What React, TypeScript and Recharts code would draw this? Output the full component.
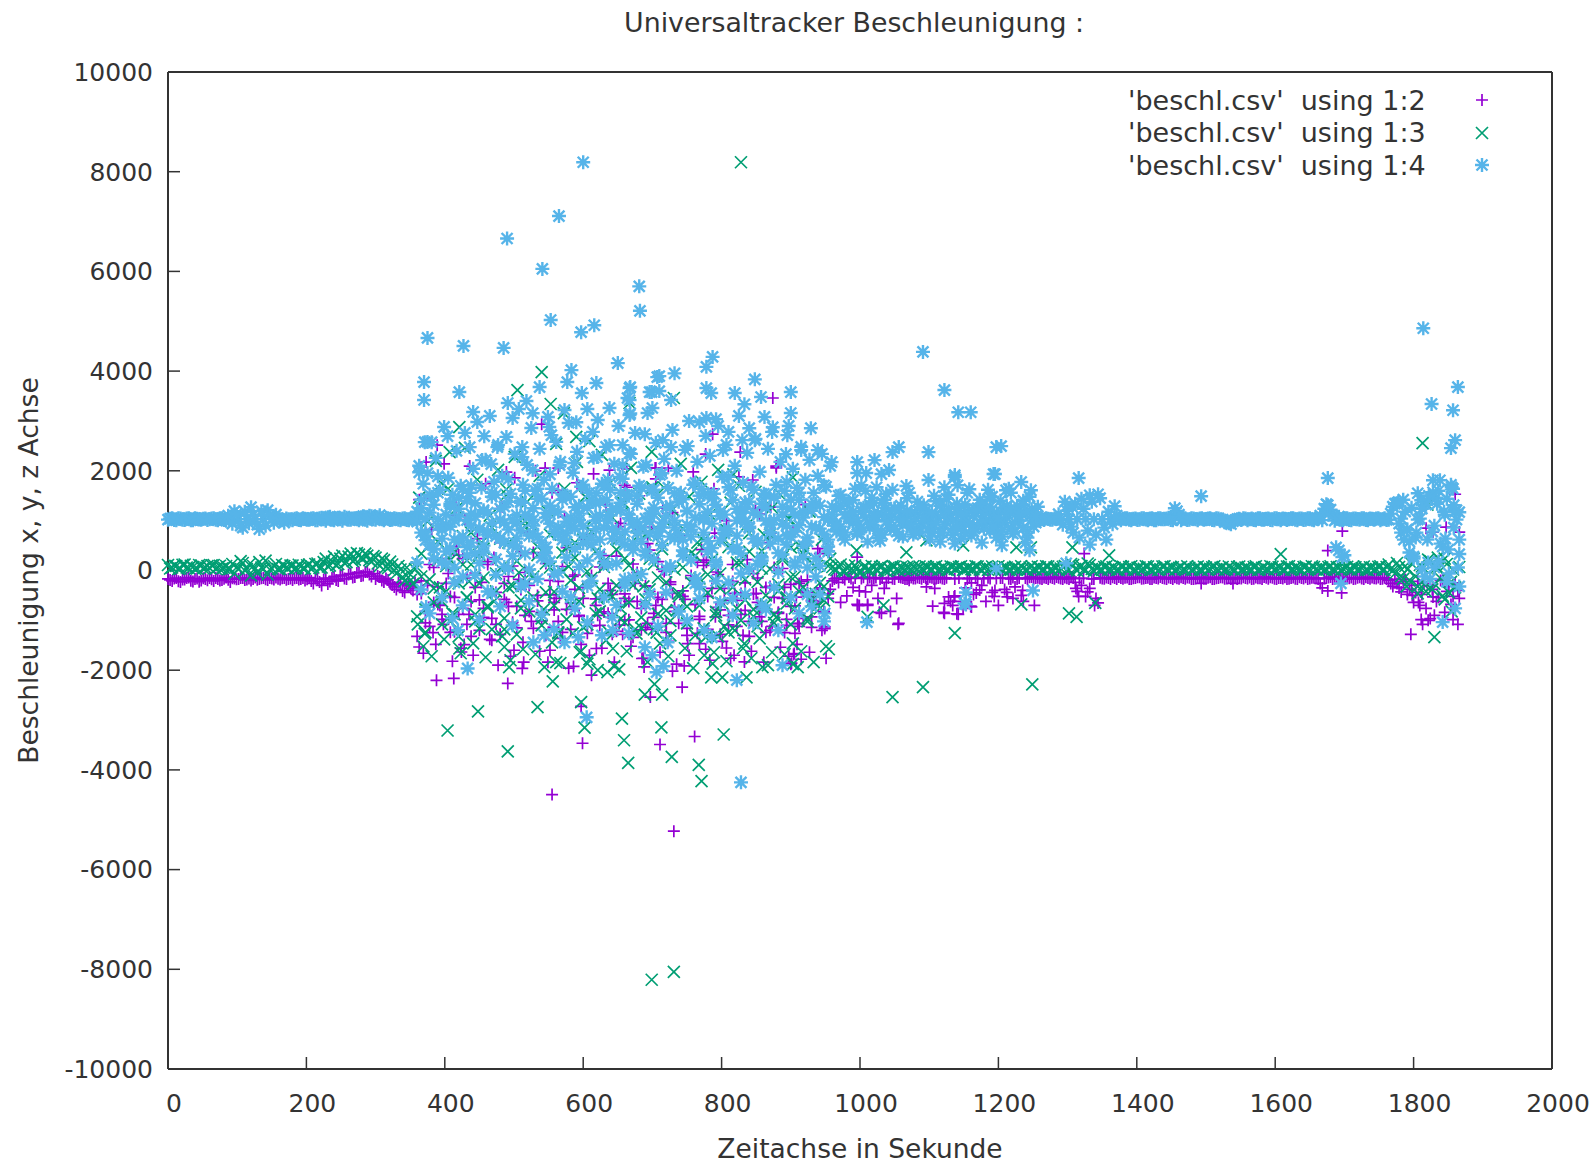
import { ScatterChart, Scatter, XAxis, YAxis } from 'recharts';

const xTicks = [0, 200, 400, 600, 800, 1000, 1200, 1400, 1600, 1800, 2000];
const yTicks = [-10000, -8000, -6000, -4000, -2000, 0, 2000, 4000, 6000, 8000, 10000];

// the sensor logs steadily, so the three thick bands share one time column
const bandTimes = [
  0, 6, 12, 18, 24, 30, 36, 42, 48, 54, 60, 66, 72, 78, 84, 90, 96, 102, 108, 114,
  120, 126, 132, 138, 144, 150, 156, 162, 168, 174, 180, 186, 192, 198, 204, 210, 216, 222, 228, 234,
  240, 246, 252, 258, 264, 270, 276, 282, 288, 294, 300, 306, 312, 318, 324, 330, 336, 342, 348, 354,
  360, 366, 372, 378, 384, 390, 396, 402, 408, 414, 420, 426, 432, 438, 444, 450, 456, 462, 468, 474,
  480, 486, 492, 498, 504, 510, 516, 522, 528, 534, 540, 546, 552, 558, 564, 570, 576, 582, 588, 594,
  600, 606, 612, 618, 624, 630, 636, 642, 648, 654, 660, 666, 672, 678, 684, 690, 696, 702, 708, 714,
  720, 726, 732, 738, 744, 750, 756, 762, 768, 774, 780, 786, 792, 798, 804, 810, 816, 822, 828, 834,
  840, 846, 852, 858, 864, 870, 876, 882, 888, 894, 900, 906, 912, 918, 924, 930, 936, 942, 948, 954,
  960, 966, 972, 978, 984, 990, 996, 1002, 1008, 1014, 1020, 1026, 1032, 1038, 1044, 1050, 1056, 1062, 1068, 1074,
  1080, 1086, 1092, 1098, 1104, 1110, 1116, 1122, 1128, 1134, 1140, 1146, 1152, 1158, 1164, 1170, 1176, 1182, 1188, 1194,
  1200, 1206, 1212, 1218, 1224, 1230, 1236, 1242, 1248, 1254, 1260, 1266, 1272, 1278, 1284, 1290, 1296, 1302, 1308, 1314,
  1320, 1326, 1332, 1338, 1344, 1350, 1356, 1362, 1368, 1374, 1380, 1386, 1392, 1398, 1404, 1410, 1416, 1422, 1428, 1434,
  1440, 1446, 1452, 1458, 1464, 1470, 1476, 1482, 1488, 1494, 1500, 1506, 1512, 1518, 1524, 1530, 1536, 1542, 1548, 1554,
  1560, 1566, 1572, 1578, 1584, 1590, 1596, 1602, 1608, 1614, 1620, 1626, 1632, 1638, 1644, 1650, 1656, 1662, 1668, 1674,
  1680, 1686, 1692, 1698, 1704, 1710, 1716, 1722, 1728, 1734, 1740, 1746, 1752, 1758, 1764, 1770, 1776, 1782, 1788, 1794,
  1800, 1806, 1812, 1818, 1824, 1830, 1836, 1842, 1848, 1854, 1860, 1866,
];

const plusBand = [
  -170, -210, -150, -230, -180, -140, -220, -160, -200, -170,
  -150, -210, -170, -190, -140, -230, -160, -170, -150, -180,
  -200, -140, -170, -150, -190, -160, -140, -180, -150, -170,
  -190, -150, -170, -200, -140, -260, -170, -300, -150, -220,
  -120, -210, -90, -170, -60, -130, -40, -100, -30, -120,
  -170, -130, -230, -190, -290, -380, -260, -440, -310, -400,
  -480, -210, -1050, 120, -640, -330, -880, 240, -520, -1230,
  310, -760, -150, -1320, -50, -590, -940, 180, -430, -1080,
  560, -260, -720, 90, -1150, -380, -40, -820, 360, -610,
  -1010, 140, -490, -790, -220, -1240, 460, -660, -90, -900,
  -340, 720, -1110, -570, 70, -830, -260, -1280, 290, -700,
  -470, -990, 130, -620, -1190, -310, 410, -860, -540, 20,
  -1060, -230, -740, 650, -410, -1160, -100, -680, -920, 210,
  -520, -1310, -30, -790, -360, -1090, 120, -600, -880, -250,
  -1020, -470, -150, -730, -1240, -320, 60, -840, -560, -980,
  -280, -710, -1120, -410, -190, -930, -620, -350, -820, -470,
  -210, -150, -640, -180, -130, -340, -680, -160, -430, -140,
  -160, -560, -150, -240, -820, -170, -130, -150, -170, -140,
  -160, -150, -130, -170, -145, -160, -140, -170, -530, -700,
  -870, -620, -350, -150, -480, -170, -300, -620, -160, -520,
  -700, -150, -440, -170, -330, -150, -620, -170, -130, -150,
  -160, -140, -170, -150, -130, -160, -140, -170, -150, -420,
  -300, -520, -360, -170, -650, -160, -140, -170, -150, -130,
  -165, -140, -170, -150, -135, -160, -145, -170, -150, -130,
  -160, -140, -170, -155, -135, -165, -145, -170, -150, -140,
  -165, -135, -170, -150, -140, -160, -170, -145, -155, -135,
  -160, -170, -140, -155, -130, -165, -145, -170, -150, -135,
  -165, -140, -170, -150, -135, -160, -145, -170, -350, -150,
  -130, -165, -145, -170, -150, -140, -165, -135, -170, -150,
  -140, -160, -170, -145, -200, -320, -260, -430, -180, -380,
  -640, -220, -480, -760, -310, -900, -540, -180, -420, -680, -250, -560,
];

const plusBandB = [
  -190, -160, -215, -180, -150, -205, -170, -225, -155, -195,
  -175, -150, -200, -165, -185, -155, -175, -150, -190, -160,
  -170, -185, -155, -175, -150, -180, -165, -155, -185, -160,
  -155, -180, -150, -175, -210, -160, -230, -180, -270, -150,
  -190, -110, -160, -80, -140, -50, -110, -30, -80, -60,
  -110, -200, -160, -260, -330, -240, -410, -280, -360, -240,
  1420, -1660, -300, 820, -1480, -700, 2140, -60, -1820, 480,
  -1560, 1020, -880, -1700, 640, -240, 1740, -1380, 260, -1900,
  1280, -640, -1720, 1860, -180, -1440, 760, -1020, 2000, -1620,
  340, -1840, 1560, -560, -1360, 1080, -1960, -120, 1760, -1480,
  620, -1700, 1940, -900, -1560, 1320, -400, -1840, 880, -1280,
  2040, -1520, -260, 1500, -1760, 540, -1180, 1840, -1640, -20,
  -1420, 1160, -1880, 700, -580, -1700, 1980, -1260, 420, -1580,
  -1800, 1640, -80, -1420, 1000, -1760, -460, 1880, -1300, 220,
  -1620, 1240, -760, -1840, 560, -1120, 2060, -1540, -340, -1720,
  780, -1480, -220, 1320, -1640, -620, 440, -1200, -1760, -380,
  -170, -240, -145, -510, -160, -150, -410, -135, -165, -300,
  -140, -170, -360, -150, -165, -560, -140, -170, -150, -160,
  -140, -165, -150, -135, -170, -150, -160, -145, -620, -170,
  -150, -760, -170, -250, -150, -390, -165, -145, -440, -160,
  -150, -380, -165, -140, -170, -500, -150, -135, -165, -145,
  -170, -150, -135, -165, -145, -170, -155, -130, -240, -165,
  -150, -430, -170, -560, -145, -165, -150, -135, -170, -150,
  -145, -170, -155, -135, -165, -150, -170, -140, -160, -150,
  -170, -150, -135, -165, -150, -140, -170, -160, -135, -165,
  -145, -170, -155, -135, -165, -150, -140, -170, -160, -150,
  -140, -165, -155, -170, -145, -135, -165, -150, -160, -170,
  -150, -165, -135, -160, -170, -145, -155, -260, -160, -140,
  -170, -150, -135, -165, -155, -170, -145, -160, -135, -165,
  -155, -140, -165, -170, -260, -180, -350, -220, -480, -300,
  -440, -700, -260, -1000, -380, -620, -200, -840, -320, -520,
];

const crossBand = [
  110, 60, 90, 40, 120, 50, 70, 40, 100, 60,
  50, 110, 70, 40, 90, 30, -60, 40, 150, 30,
  -100, 40, 170, 30, -80, 40, 130, 30, 90, 40,
  100, 50, 80, 40, 120, 60, 140, 60, 240, 100,
  280, 130, 300, 170, 340, 220, 320, 240, 300, 180,
  260, 90, 210, 50, 120, -60, 20, -210, -50, -270,
  60, -120, -780, 510, -360, 210, -620, 90, -1020, 380,
  -260, 690, -540, 120, -880, 320, -140, -710, 860, -420,
  40, -1180, 560, -310, 190, -760, 990, -80, -540, 310,
  -960, 140, 720, -430, -1240, -20, 470, -690, 260, -350,
  620, -1080, -150, 380, -820, 70, -510, 1060, -300, -970,
  240, -640, 540, -90, -1150, 720, -380, 130, -870, 430,
  -240, -1010, 870, -520, 60, -720, 350, -1300, -160, 610,
  -450, 220, -830, -60, -1120, 470, -340, -760, 160, -590,
  750, -920, -230, 390, -680, 30, -1050, -410, 280, -540,
  -130, -760, 510, -340, -1020, 140, -470, -250, -600, 90,
  70, 10, 120, -20, 90, 0, 30, -30, 80, 10,
  60, 0, 90, -10, 20, 80, 0, 40, 70, 10,
  50, 80, 10, 65, 20, 85, 30, 55, 10, 75,
  40, 85, 20, 60, 25, 80, 10, 70, 35, 15,
  85, 20, 60, 15, 75, 30, 50, 10, 85, 20,
  65, 25, 80, 10, 55, 40, 90, 10, 110, 0,
  90, 10, 110, -10, 60, 10, 85, 30, 55, 15,
  75, 20, 85, 10, 60, 35, 80, 10, 50, 25,
  85, 15, 65, 30, 75, 15, 55, 20, 80, 10,
  60, 35, 85, 15, 70, 25, 50, 10, 80, 30,
  55, 15, 85, 20, 65, 15, 75, 35, 60, 10,
  85, 25, 50, 10, 80, 30, 70, 10, 60, 20,
  85, 15, 55, 35, 75, 15, 65, 25, 80, 10,
  60, 30, 85, 15, 120, 0, 150, -110, 90, -200,
  240, -320, 80, -420, 190, -270, 40, -510, 130, -230, -340, 70,
];

const crossBandB = [
  40, 100, 30, 115, 60, 95, 35, 110, 45, 90,
  105, 35, 95, 55, 25, 130, 60, 190, 0, 120,
  90, -50, 60, 200, 20, 90, 30, 110, 60, 100,
  35, 115, 45, 105, 30, 130, 50, 170, 80, 180,
  110, 240, 150, 280, 190, 350, 250, 340, 210, 290,
  140, 240, 70, 180, 10, 90, -130, 60, -190, 30,
  1460, -1520, 980, -1720, 2200, -340, -1380, 1640, -860, 1240,
  -1660, 2460, -220, -1460, 1820, 560, -1740, 1100, -620, 2020,
  -1320, 1520, -1800, 2280, -40, -1580, 1380, 740, -1680, 1900,
  -780, 1180, -1440, 2540, -1860, 1640, 80, -1260, 2180, -1620,
  1480, -1780, 1040, -560, 2320, -1400, 1760, -1920, 640, 1320,
  -1620, 2060, -1180, 1540, -320, -1840, 2380, 860, -1460, 1660,
  -1720, 1220, -800, 2140, -1560, 1480, -1960, 560, 1780, -1340,
  1120, -1640, 2020, -660, -1820, 1360, -1200, 1700, -1560, 920,
  -1760, 1580, -1360, 720, -1900, 1260, -940, 1520, -1680, 1040,
  -1460, 860, -1620, 420, 1180, -1840, -700, 620, -1520, 240,
  20, 85, -10, 60, 30, 100, -40, 70, 15, 90,
  25, 70, 10, 50, 85, 25, 65, 10, 55, 85,
  15, 40, 85, 25, 70, 10, 60, 15, 80, 30,
  70, 15, 55, 25, 85, 20, 50, 15, 80, 60,
  25, 70, 10, 55, 20, 85, 15, 60, 30, 75,
  15, 85, 20, 60, 10, 75, 20, 130, 30, 70,
  15, 140, 30, 60, 20, 70, 15, 65, 10, 85,
  25, 70, 15, 55, 20, 85, 15, 65, 10, 80,
  30, 70, 10, 55, 25, 85, 15, 60, 20, 75,
  15, 65, 25, 55, 10, 80, 30, 70, 15, 60,
  20, 70, 10, 55, 30, 85, 20, 65, 15, 80,
  15, 60, 30, 70, 10, 85, 25, 55, 15, 70,
  25, 70, 15, 60, 25, 80, 20, 50, 15, 65,
  20, 75, 15, 70, 30, -60, 70, -170, 20, 140,
  -120, 110, -280, 220, -380, 60, -160, 240, -440, 20,
];

const starBand = [
  1020, 1050, 1010, 1045, 1015, 1050, 1010, 1040, 1020, 1045,
  1030, 1050, 1010, 1050, 1000, 1030, 1190, 1030, 860, 1030,
  1270, 1030, 830, 1030, 1210, 1030, 1120, 1030, 960, 1030,
  1010, 1050, 1010, 1040, 1020, 1050, 1010, 1060, 1000, 1080,
  1010, 1060, 1000, 1060, 1020, 1050, 1010, 1090, 1000, 1090,
  1020, 1110, 1010, 1050, 1020, 1040, 1010, 1050, 1010, 1045,
  1030, 1250, 760, 1520, 430, 1890, 180, 920, 1340, 620,
  1460, -120, 1010, 1710, 340, 820, 1180, -420, 1560, 690,
  1240, 70, 1830, 510, 950, 1390, -260, 1080, 740, 1640,
  260, 1150, 1930, -80, 870, 1420, 580, -540, 1270, 1010,
  1720, -310, 660, 1350, 1100, 150, 1820, 830, -690, 1210,
  520, 1500, -140, 970, 1660, 380, -470, 1130, 780, 1950,
  30, 1290, 640, -820, 1430, 910, 210, 1760, -330, 1060,
  1540, 450, -210, 1180, 760, 1880, -560, 1000, 340, 1370,
  850, 1620, 120, -690, 1260, 540, 1460, -30, 930, 1780,
  680, 1110, 1560, 270, -480, 880, 1340, 90, 1710, 620,
  1280, 780, 1520, 620, 1080, 1410, 730, 1190, 1600, 860,
  1350, 650, 1120, 1540, 840, 1250, 1020, 680, 1450, 930,
  1160, 770, 1310, 1040, 860, 1390, 580, 1200, 1520, 710,
  1340, 640, 1080, 1630, 900, 1250, 560, 1190, 1470, 800,
  1120, 680, 1300, 1560, 780, 1090, 1400, 660, 1230, 1010,
  1050, 1015, 1040, 1020, 1050, 1010, 1380, 1030, 760, 1030,
  1440, 1030, 520, 1030, 1530, 1030, 620, 1030, 1290, 1040,
  1040, 1050, 1010, 1045, 1020, 1050, 1010, 1050, 1010, 1050,
  1030, 1060, 1010, 1190, 1010, 1050, 1020, 1045, 1010, 1050,
  1030, 1050, 1010, 1045, 1020, 980, 930, 1010, 1040, 1050,
  1010, 1045, 1010, 1050, 1020, 1045, 1010, 1050, 1010, 1040,
  1030, 1050, 1010, 1045, 1020, 1050, 1010, 1040, 1010, 1330,
  1220, 1000, 1080, 1010, 1050, 1010, 1045, 1020, 1050, 1010,
  1040, 1045, 1010, 1050, 1020, 1280, 1350, 760, 1180, 580,
  280, 1550, 40, 1320, -170, 900, 1600, 480, -230, 1720, 1180, 330,
];

const starBandB = [
  1040, 1015, 1050, 1020, 1045, 1010, 1050, 1025, 1040, 1015,
  1045, 1020, 1050, 1015, 1100, 940, 1130, 900, 1180, 950,
  1120, 920, 1190, 900, 1100, 960, 1050, 1010, 1045, 1020,
  1040, 1015, 1050, 1020, 1045, 1010, 1050, 1030, 1070, 1020,
  1050, 1030, 1080, 1020, 1045, 1030, 1070, 1020, 1100, 1030,
  1070, 1030, 1060, 1015, 1050, 1020, 1045, 1015, 1050, 1030,
  2100, 1740, 2580, 1480, 2260, 1620, 2880, 1860, 1520, 2400,
  1700, 2760, 1560, 2040, 2980, 1660, 2220, 3100, 1780, 2520,
  1900, 2680, 1540, 2340, 3240, 1720, 2120, 2860, 1600, 2440,
  1820, 3080, 1640, 2580, 2180, 1500, 2960, 1960, 2380, 1680,
  2640, 1560, 2260, 3020, 1740, 2480, 1620, 2140, 2900, 1840,
  1520, 2340, 2760, 1700, 2080, 3160, 1600, 2560, 1920, 2240,
  1660, 2820, 2000, 1560, 2420, 3000, 1720, 2180, 1640, 2700,
  2300, 1540, 2900, 1880, 2520, 1620, 2100, 3100, 1760, 2360,
  1680, 2640, 1980, 1540, 2440, 2780, 1720, 2180, 1600, 2900,
  2040, 1660, 2480, 1820, 2220, 1560, 1900, 2340, 1680, 2100,
  900, 1500, 700, 1350, 1040, 1640, 820, 1260, 580, 1460,
  1100, 600, 1420, 920, 1620, 780, 1300, 980, 1560, 720,
  1380, 940, 1200, 620, 1500, 1060, 760, 1440, 1120, 540,
  1260, 880, 1560, 700, 1150, 1420, 840, 1620, 1040, 660,
  1400, 960, 1640, 740, 1300, 1140, 560, 1480, 880, 1280,
  1030, 1050, 1020, 1045, 1130, 920, 1200, 880, 1340, 660,
  1240, 800, 1380, 720, 1450, 860, 1180, 930, 1100, 1010,
  1050, 1020, 1040, 1015, 1050, 1025, 1045, 1010, 1050, 1030,
  1045, 1015, 1080, 1120, 1040, 1015, 1050, 1030, 1045, 1020,
  1045, 1015, 1050, 1020, 970, 950, 990, 1030, 1015, 1045,
  1030, 1015, 1050, 1020, 1040, 1015, 1050, 1030, 1045, 1015,
  1050, 1020, 1045, 1015, 1050, 1020, 1045, 1100, 1240, 1180,
  1100, 1040, 1020, 1050, 1015, 1045, 1030, 1050, 1015, 1045,
  1020, 1050, 1030, 1015, 1140, 1340, 940, 1420, 820, 1260,
  660, 1040, 1380, 160, 780, 1460, 540, 1120, -60, 1640,
];

// further passes through the noisy stretch from 360 s to 954 s
const starDenseA = [
  980, 1420, 610, 1160, 240, 1560, 820, 380, 1290, 60,
  1080, 1640, 470, 900, 1350, 150, 1210, 720, 1480, -90,
  1020, 560, 1380, 290, 1110, 800, 1600, 20, 1250, 670,
  1440, 350, 940, 1180, -40, 1530, 750, 1060, 430, 1300,
  890, 200, 1410, 1000, 620, 1700, 110, 1230, 780, 1360,
  -180, 1050, 540, 1490, 860, 310, 1140, 1620, 690, 960,
  1270, 80, 1550, 730, 400, 1190, 880, -260, 1330, 1020,
  590, 1450, 170, 1090, 810, 1670, 440, 1240, -60, 970,
  1380, 640, 1120, 260, 1520, 770, 1010, 350, 1280, 520,
  1420, 100, 910, 1180, 660, 1330, -120, 840, 1070, 480,
];

const starDenseB = [
  160, -380, 700, -860, 420, 1030, -540, 120, 880, -240,
  590, -700, 300, 1140, -90, -990, 500, 780, -460, 230,
  -720, 960, 40, -1100, 640, -320, 340, -620, 1020, -170,
  -880, 470, 180, -1180, 720, -420, 260, 900, -760, 70,
  550, -1040, -210, 830, 330, -540, 1110, -940, 140, 620,
  -300, -1260, 410, 760, -70, -680, 980, 220, -1120, 510,
  -440, 90, 860, -820, 290, -1000, 680, -150, -560, 1040,
  380, -1340, 120, -640, 740, -240, -900, 460, 1160, -480,
  30, -1060, 600, 200, -780, 920, -340, -1200, 320, 700,
  -540, 160, -860, 500, 60, -720, 240, -480, -1020, 380,
];

const starDenseC = [
  1180, 760, 1040, 520, 1320, 900, 640, 1120, 440, 1000,
  1240, 680, 1400, 560, 1080, 840, 360, 1160, 960, 1520,
  640, 1280, 820, 1020, 480, 1360, 1120, 700, 900, 1440,
  560, 1060, 1300, 780, 1180, 620, 980, 1480, 840, 1140,
  700, 1260, 520, 1080, 1380, 860, 1000, 640, 1220, 1560,
  780, 1120, 920, 1340, 580, 1040, 740, 1260, 1460, 860,
  1100, 680, 1000, 1380, 620, 1200, 820, 1060, 1500, 760,
  1180, 940, 1320, 600, 1120, 840, 1420, 700, 1040, 1240,
  880, 1160, 560, 1340, 1000, 760, 1480, 640, 1120, 900,
  1240, 780, 1420, 1060, 580, 1200, 860, 1300, 720, 1020,
];

// a wider blob of the z axis between 960 s and 1254 s
const starBlobA = [
  1000, 1240, 880, 1120, 1380, 960, 780, 1180, 1060, 1320,
  900, 1140, 720, 1260, 1020, 840, 1200, 1080, 940, 1160,
  1040, 860, 1240, 1000, 760, 1120, 1300, 920, 1060, 840,
  1180, 980, 740, 1220, 1100, 880, 1340, 1020, 800, 1160,
  940, 1260, 1060, 860, 1180, 1000, 1320, 780, 1120, 960,
];
const starBlobB = [
  1120, 900, 1300, 760, 1040, 1180, 1000, 860, 1260, 940,
  1080, 800, 1360, 980, 1140, 1240, 700, 1000, 1200, 880,
  760, 1280, 1060, 840, 1160, 960, 760, 1100, 1240, 1000,
  860, 1120, 1320, 940, 780, 1200, 1020, 1160, 1280, 880,
  1060, 820, 1140, 1240, 960, 1100, 860, 1180, 1000, 1080,
];

// lower part of the cloud, where the y and x axes are still visible
const crossDense = [
  -920, 340, -1240, -180, -640, 580, -1080, -420, 210, -880,
  -1320, 120, -540, 760, -1020, -260, 440, -740, -1180, -60,
  640, -960, -340, 280, -1280, -600, 900, -820, -120, 480,
  -1100, -440, 60, -700, -1260, 360, -980, -200, 560, -620,
  -1140, -20, 780, -860, -380, 180, -1220, -520, 420, -760,
  -1040, 100, -300, 680, -940, -580, 240, -1180, -140, 520,
  -800, -1300, 20, -460, 840, -1060, -240, 300, -700, -1160,
  -80, 460, -900, -360, 620, -1240, -560, 160, -1000, -180,
  380, -780, -1120, 40, -500, 720, -880, -280, 220, -660,
  -1080, -120, -420, 340, -960, -620, 80, -760, -320, -520,
];

const plusDense = [
  -1320, -460, -820, -1120, 60, -680, -980, -260, -1240, -540,
  -880, 240, -1080, -620, -340, -1200, -760, 120, -960, -440,
  -1280, -580, -120, -1040, -720, 380, -900, -300, -1160, -500,
  -840, -1300, -200, -640, -1020, 80, -780, -1180, -380, -920,
  -560, -1260, -100, -700, -1100, 300, -860, -480, -1220, -320,
  -1000, -620, -1340, -40, -760, -1140, -420, -940, 180, -580,
  -1240, -280, -820, -1060, -520, -1300, -160, -680, -980, 100,
  -1180, -360, -740, -1280, -600, -900, -220, -1120, -460, -800,
  -1320, -60, -640, -1020, -340, -1200, -540, -860, 40, -1100,
  -720, -1260, -260, -960, -440, -1140, -660, -380, -840, -560,
];

const plusScatter = [
  [363, -1535], [388, -2204], [413, -2165], [424, -1635], [428, -1485], [383, -1245], [398, -1080], [468, -1400],
  [500, -1600], [514, -1840], [512, -1965], [491, -2265], [552, -1600], [586, -1925], [619, -1565], [612, -2100],
  [557, -1135], [597, -2725], [599, -3465], [555, -4495], [731, -5230], [761, -3330], [711, -3490], [697, -2540],
  [743, -2340], [729, -2020], [688, -1935], [685, -1765], [746, -1915], [751, -1465], [768, -1465], [807, -1555],
  [818, -1700], [833, -1835], [904, -1685], [901, -1860], [891, -1245], [905, -1665], [915, -1780], [900, -1880],
  [949, -1165], [910, -1065], [1055, -1080], [999, -700], [1011, -700], [1028, -840], [1105, -715], [1121, -840],
  [1142, -880], [1160, -715], [1252, -700], [1339, -700], [1493, -260], [1539, -260], [1676, 400], [1697, 790],
  [1676, -410], [1696, -450], [1316, -520], [1312, -360], [1324, 340], [1136, -530], [1168, -450], [1161, -730],
  [1195, -400], [1213, -530], [1221, -560], [1235, -400], [1860, 1530], [1866, 770], [1796, -1280], [1811, -985],
  [1824, -965], [1813, -1080], [1857, -985], [1864, -1080], [1807, -640], [1828, -530], [1798, -500], [1864, -400],
  [1847, 870], [1818, 850], [1828, 770], [540, 2935], [389, 2515], [373, 2175], [416, 1310], [416, 1110],
  [370, 1450], [489, 1975], [545, 2055], [564, 2055], [564, 1610], [704, 2055], [663, 1670], [599, 1630],
  [436, 2095], [874, 3460], [787, 2735], [827, 2375], [777, 2335], [845, 1815], [879, 2095], [871, 1270],
  [855, 1130], [723, 2055], [705, 2055], [638, 2015], [660, 1710], [715, 1250], [785, 1550], [654, 945],
  [680, 830], [700, 870], [790, 750], [871, 750], [942, 340], [955, 390], [996, 270], [765, 165],
  [778, 165], [997, -700], [1011, -680], [1031, -860], [1056, -1060], [1122, -660], [1122, -860], [1137, -510],
  [1108, -360], [1096, -330], [1071, -195], [949, -1130], [911, -1060], [855, -930], [816, -900], [791, -930],
  [693, -1060], [705, -700], [652, -1095], [660, -560], [729, -460], [850, -460], [930, -600], [908, -535],
];

const crossScatter = [
  [404, -3210], [448, -2825], [491, -3630], [534, -2740], [597, -2640], [602, -3150], [656, -2970], [659, -3405],
  [665, -3860], [713, -3145], [728, -3740], [767, -3900], [771, -4225], [803, -3290], [689, -2490], [714, -2490],
  [703, -2280], [556, -2225], [561, -1840], [544, -1940], [493, -1940], [486, -1535], [361, -1080], [371, -1265],
  [450, -1165], [421, -1565], [635, -2040], [652, -1985], [621, -2000], [606, -1870], [643, -1565], [595, -1640],
  [787, -1870], [775, -1700], [785, -2145], [801, -2145], [836, -2145], [859, -1940], [873, -1640], [795, -1320],
  [833, -1465], [706, -1245], [677, -1265], [903, -1880], [955, -1580], [910, -1940], [1047, -2540], [1091, -2340],
  [1249, -2285], [1137, -1255], [1302, -860], [1313, -930], [1233, -680], [1034, -700], [1011, -930], [828, 8190],
  [731, -8050], [699, -8210], [1813, 2555], [1830, -1335], [540, 3980], [505, 3620], [553, 3340], [421, 2875],
  [407, 2375], [590, 2680], [609, 2595], [572, 3155], [489, 1630], [655, 1370], [700, 1670], [395, 1750],
  [667, 3360], [731, 3460], [817, 1930], [903, 1870], [657, 1370], [895, 1045], [807, 810], [1067, 365],
  [995, 405], [1096, 605], [1149, 505], [900, 465], [699, 1650], [717, 1010], [1307, 465], [1360, 305],
  [1608, 330], [1247, 465], [1226, 465], [1340, -650], [1820, 1320], [1835, 260], [1845, -580], [1855, -820],
  [1790, -320], [1806, -460],
];

const starScatter = [
  [600, 8190], [565, 7110], [490, 6660], [541, 6050], [553, 5025], [681, 5700], [682, 5210], [597, 4780],
  [616, 4920], [375, 4665], [427, 4505], [485, 4465], [370, 3780], [370, 3420], [421, 3580], [441, 3180],
  [650, 4160], [583, 4020], [537, 3680], [577, 3780], [619, 3760], [598, 3560], [491, 3360], [518, 3400],
  [527, 3155], [498, 3060], [573, 3220], [606, 3240], [638, 3260], [667, 3660], [667, 3420], [667, 3120],
  [699, 3580], [700, 3260], [707, 3880], [590, 2975], [554, 2715], [551, 2880], [614, 2780], [689, 2735],
  [457, 2695], [436, 2475], [404, 2695], [371, 2575], [381, 2575], [363, 1970], [375, 1955], [454, 2215],
  [476, 2475], [467, 2135], [512, 2475], [512, 2275], [527, 2015], [566, 2115], [587, 2155], [620, 2275],
  [638, 2515], [657, 2515], [667, 2355], [691, 2115], [657, 2115], [653, 1875], [619, 1550], [634, 1410],
  [787, 4285], [778, 4085], [710, 3900], [732, 3955], [848, 3835], [900, 3580], [819, 3560], [857, 3480],
  [833, 3335], [668, 3680], [664, 3460], [668, 3150], [696, 3580], [710, 3600], [727, 3420], [785, 3560],
  [778, 3660], [900, 3160], [862, 3080], [778, 3060], [768, 2975], [792, 3035], [929, 2855], [840, 2855],
  [830, 2615], [848, 2615], [810, 2780], [874, 2875], [895, 2715], [715, 2615], [727, 2475], [751, 2495],
  [802, 2415], [915, 2415], [939, 2415], [959, 2175], [893, 2335], [1056, 2475], [1047, 2375], [1099, 2375],
  [996, 2175], [1021, 2215], [1042, 2015], [1197, 2475], [996, 1955], [1009, 1955], [1031, 1935], [1002, 1710],
  [1024, 1670], [1067, 1695], [1099, 1815], [1137, 1915], [1193, 1935], [1122, 1670], [1141, 1710], [1091, 4385],
  [1122, 3620], [1142, 3175], [1160, 3175], [433, -1965], [605, -2945], [828, -4250], [822, -2200], [888, -1900],
  [706, -2040], [716, -1920], [700, -1700], [689, -1540], [528, -1440], [573, -1440], [593, -1340], [544, -1300],
  [627, -1300], [643, -1200], [722, -1440], [775, -1200], [419, -1200], [411, -960], [373, -730], [1010, -1035],
  [949, -860], [1153, -680], [1151, -660], [1153, -440], [1197, 40], [1250, -400], [1298, 145], [1245, 405],
  [1205, 505], [1692, 405], [1697, 270], [1695, -260], [1493, 1490], [1676, 1855], [1676, 1310], [1316, 1855],
  [1195, 1935], [1233, 1775], [1247, 1610], [1137, 1875], [1204, 2495], [1211, 1610], [1191, 1480], [1332, 1510],
  [1307, 1270], [1455, 1250], [1814, 4860], [1864, 3680], [1826, 3340], [1857, 3215], [1860, 2615], [1854, 2455],
  [1828, 1810], [1838, 1810], [1828, 1570], [1855, 1670], [1778, 1370], [1811, 1410], [1862, 1210], [1866, 1170],
  [1860, -760], [1842, -1035], [1688, 465], [1700, 305], [1820, 620], [1836, 180], [1850, 420], [1800, 240],
  [1844, 1180], [1858, 860], [1790, 820], [1806, 1020], [1786, 620], [1794, 360], [1782, 1040], [1812, 1240],
  [1822, 1500], [1834, 1340], [1848, 1440], [1862, 1020], [1866, 620], [1864, 60], [1866, -320], [1858, 1310],
  [1846, 640], [1830, 60], [1816, -120], [1804, 760],
];

const toPoints = (pairs: number[][]) => pairs.map(([time, value]) => ({ time, value }));
const fromBand = (values: number[], start = 0, shift = 0) =>
  values.map((value, i) => ({ time: bandTimes[start + i] + shift, value }));

const CLOUD_START = 60;
const BLOB_START = 160;

const plusData = [
  ...fromBand(plusBand),
  ...fromBand(plusBandB, 0, 3),
  ...fromBand(plusDense, CLOUD_START),
  ...toPoints(plusScatter),
];
const crossData = [
  ...fromBand(crossBand),
  ...fromBand(crossBandB, 0, 3),
  ...fromBand(crossDense, CLOUD_START),
  ...toPoints(crossScatter),
];
const starData = [
  ...fromBand(starBand),
  ...fromBand(starBandB, 0, 3),
  ...fromBand(starDenseA, CLOUD_START),
  ...fromBand(starDenseB, CLOUD_START),
  ...fromBand(starDenseC, CLOUD_START),
  ...fromBand(starBlobA, BLOB_START),
  ...fromBand(starBlobB, BLOB_START),
  ...toPoints(starScatter),
];

const PURPLE = '#9400d3';
const GREEN = '#009e73';
const BLUE = '#56b4e9';
const INK = '#333333';
const FONT = '"DejaVu Sans", sans-serif';

function glyph(kind: string, cx: number, cy: number, color: string) {
  const r = kind === 'star' ? 7 : 6;
  const d = kind === 'star' ? 5.5 : 6;
  const plus = `M${cx - r} ${cy}H${cx + r}M${cx} ${cy - r}V${cy + r}`;
  const cross = `M${cx - d} ${cy - d}L${cx + d} ${cy + d}M${cx - d} ${cy + d}L${cx + d} ${cy - d}`;
  const path = kind === 'plus' ? plus : kind === 'cross' ? cross : plus + cross;
  return <path d={path} stroke={color} strokeWidth={kind === 'star' ? 2.4 : 1.7} fill="none" />;
}

const marker = (kind: string, color: string) => (props: any) => glyph(kind, props.cx, props.cy, color);

const legendRows = [
  { label: "'beschl.csv'  using 1:2", kind: 'plus', color: PURPLE },
  { label: "'beschl.csv'  using 1:3", kind: 'cross', color: GREEN },
  { label: "'beschl.csv'  using 1:4", kind: 'star', color: BLUE },
];

function LegendBox() {
  return (
    <div style={{ position: 'absolute', left: 1128, top: 84, fontFamily: FONT, fontSize: 27, color: INK }}>
      {legendRows.map((row) => (
        <div key={row.kind} style={{ display: 'flex', alignItems: 'center', height: 32.5 }}>
          <span style={{ width: 300, whiteSpace: 'pre' }}>{row.label}</span>
          <svg width={108} height={32}>
            {glyph(row.kind, 54, 16, row.color)}
          </svg>
        </div>
      ))}
    </div>
  );
}

const tickStyle = { fill: INK, fontSize: 25, fontFamily: FONT };
const labelStyle = { fill: INK, fontSize: 26.5, fontFamily: FONT };
const axisLine = { stroke: INK, strokeWidth: 2 };
const tickLine = { stroke: INK, strokeWidth: 1.5 };

export default function App() {
  return (
    <div style={{ position: 'absolute', left: 0, top: 0, width: 1596, height: 1164, background: '#fff' }}>
      <ScatterChart width={1596} height={1164} margin={{ top: 71, right: 43, bottom: 0, left: 0 }}>
        <XAxis
          xAxisId="bottom"
          type="number"
          dataKey="time"
          domain={[0, 2000]}
          ticks={xTicks}
          height={95}
          interval={0}
          tickSize={-12}
          tickMargin={37}
          tick={{ ...tickStyle, dx: 6 }}
          tickLine={tickLine}
          axisLine={axisLine}
          label={{ value: 'Zeitachse in Sekunde', position: 'insideBottom', offset: 6, ...labelStyle }}
        />
        <XAxis
          xAxisId="top"
          orientation="top"
          type="number"
          domain={[0, 2000]}
          ticks={xTicks}
          height={1}
          interval={0}
          tickSize={-12}
          tickFormatter={() => ''}
          tickLine={tickLine}
          axisLine={axisLine}
        />
        <YAxis
          yAxisId="left"
          type="number"
          dataKey="value"
          domain={[-10000, 10000]}
          ticks={yTicks}
          width={168}
          interval={0}
          tickSize={-12}
          tickMargin={27}
          tick={tickStyle}
          tickLine={tickLine}
          axisLine={axisLine}
          label={{
            value: 'Beschleunigung x, y, z Achse',
            angle: -90,
            position: 'insideLeft',
            offset: 29,
            textAnchor: 'middle',
            ...labelStyle,
          }}
        />
        <YAxis
          yAxisId="right"
          orientation="right"
          type="number"
          domain={[-10000, 10000]}
          ticks={yTicks}
          width={1}
          interval={0}
          tickSize={-12}
          tickFormatter={() => ''}
          tickLine={tickLine}
          axisLine={axisLine}
        />
        <Scatter name="'beschl.csv'  using 1:2" xAxisId="bottom" yAxisId="left" data={plusData} shape={marker('plus', PURPLE)} isAnimationActive={false} />
        <Scatter name="'beschl.csv'  using 1:3" xAxisId="bottom" yAxisId="left" data={crossData} shape={marker('cross', GREEN)} isAnimationActive={false} />
        <Scatter name="'beschl.csv'  using 1:4" xAxisId="bottom" yAxisId="left" data={starData} shape={marker('star', BLUE)} isAnimationActive={false} />
        <text x={854} y={32} textAnchor="middle" fill={INK} fontSize={26.8} fontFamily={FONT}>
          Universaltracker Beschleunigung :
        </text>
      </ScatterChart>
      <LegendBox />
    </div>
  );
}
